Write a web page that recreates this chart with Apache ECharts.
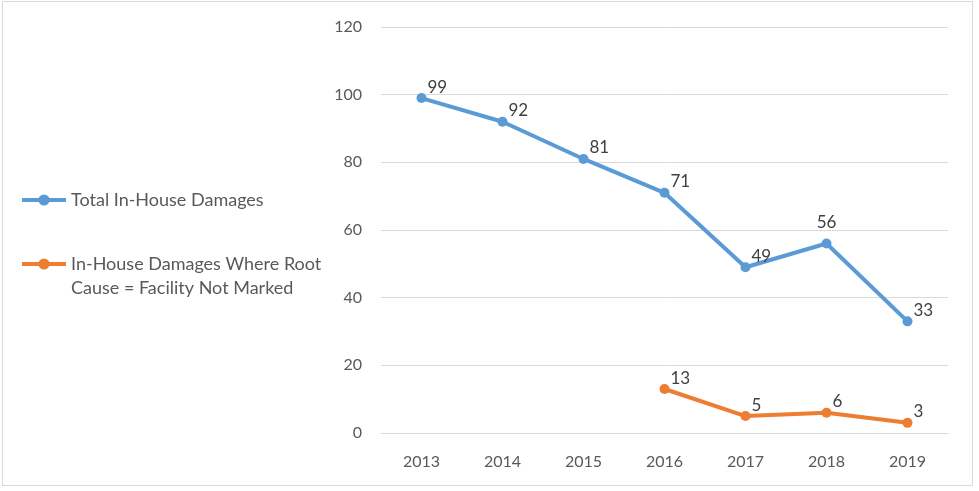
<!DOCTYPE html>
<html>
<head>
<meta charset="utf-8">
<script src="https://cdn.jsdelivr.net/npm/echarts@6/dist/echarts.min.js"></script>
<style>
  html, body { margin: 0; padding: 0; background: #fff; }
  #main { position: absolute; left: 2px; top: 1px; width: 971px; height: 485px; border: 1.5px solid #d9d9d9; box-sizing: border-box; }
</style>
</head>
<body>
<div id="main"></div>
<script>
var years = ['2013', '2014', '2015', '2016', '2017', '2018', '2019'];
var totalDamages = [99, 92, 81, 71, 49, 56, 33];
var notMarked = [null, null, null, 13, 5, 6, 3];
var yTicks = { min: 0, max: 120, interval: 20 };

var nameTotal = 'Total In-House Damages';
var nameNotMarked = 'In-House Damages Where Root Cause = Facility Not Marked';

var myChart = echarts.init(document.getElementById('main'));

var labelStyle = {
    show: true,
    position: 'right',
    offset: [-4, -11],
    color: '#404040',
    fontSize: 17,
    fontFamily: 'Lato'
};

// the 2018 label of the total line sits above its point
var totalData = totalDamages.map(function (v, i) {
    if (years[i] === '2018') {
        return { value: v, label: { position: 'top', offset: [0, -3] } };
    }
    return v;
});

myChart.setOption({
    animation: false,
    textStyle: { fontFamily: 'Lato' },
    legend: {
        orient: 'vertical',
        left: 12,
        top: 181,
        itemGap: 16,
        itemWidth: 44,
        itemHeight: 14,
        lineStyle: { width: 4 },
        textStyle: {
            color: '#595959',
            fontSize: 18,
            lineHeight: 24,
            rich: {
                gap: { fontSize: 18, lineHeight: 24 },
                t: { color: '#595959', fontSize: 18, lineHeight: 24 }
            }
        },
        data: [nameTotal, nameNotMarked],
        formatter: function (name) {
            if (name === nameNotMarked) {
                // empty first line keeps the icon level with the first text line
                return '{gap| }\n{t|In-House Damages Where Root}\n{t|Cause = Facility Not Marked}';
            }
            return name;
        }
    },
    grid: { left: 378, right: 24, top: 25, bottom: 52 },
    xAxis: {
        type: 'category',
        data: years,
        boundaryGap: true,
        axisLine: { lineStyle: { color: '#d9d9d9', width: 1 } },
        axisTick: { show: false },
        axisLabel: { color: '#595959', fontSize: 16, margin: 21 }
    },
    yAxis: {
        type: 'value',
        min: yTicks.min,
        max: yTicks.max,
        interval: yTicks.interval,
        axisLine: { show: false },
        axisTick: { show: false },
        axisLabel: { color: '#595959', fontSize: 16, margin: 19 },
        splitLine: { lineStyle: { color: '#d9d9d9', width: 1 } }
    },
    series: [
        {
            name: nameTotal,
            type: 'line',
            data: totalData,
            symbol: 'circle',
            symbolSize: 10,
            itemStyle: { color: '#5b9bd5' },
            lineStyle: { color: '#5b9bd5', width: 4 },
            label: labelStyle
        },
        {
            name: nameNotMarked,
            type: 'line',
            data: notMarked,
            symbol: 'circle',
            symbolSize: 10,
            itemStyle: { color: '#ed7d31' },
            lineStyle: { color: '#ed7d31', width: 4 },
            label: labelStyle
        }
    ]
});
</script>
</body>
</html>
